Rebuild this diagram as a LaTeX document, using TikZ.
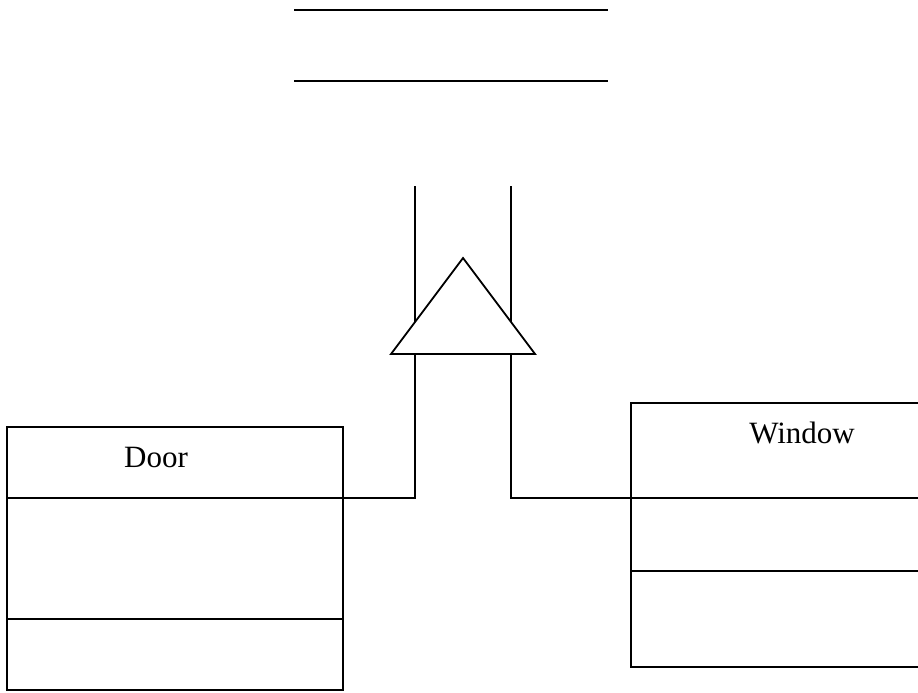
\documentclass[tikz,border=0pt]{standalone}
\usepackage{fontspec}
\setmainfont{Liberation Serif}
\begin{document}
\begin{tikzpicture}[x=1pt,y=-1pt,line width=1.8pt,
  classbox/.style={draw,rectangle,inner sep=0pt,line width=1.8pt},
  lbl/.style={font=\fontsize{31}{36}\selectfont,inner sep=0pt}]
\useasboundingbox (0,0) rectangle (918,693);
% top (empty) class lines
\coordinate (t1) at (294,10);  \coordinate (t2) at (608,10);
\coordinate (t3) at (294,81);  \coordinate (t4) at (608,81);
\draw (t1) -- (t2);
\draw (t3) -- (t4);
% boxes
\node[classbox,minimum width=336pt,minimum height=263pt] (door) at (175,558.5) {};
\node[classbox,minimum width=288pt,minimum height=264pt] (window) at (775,535) {};
\coordinate (d1) at (7,498);   \coordinate (d1e) at (343,498);
\coordinate (d2) at (7,619);   \coordinate (d2e) at (343,619);
\draw (d1) -- (d1e);
\draw (d2) -- (d2e);
\coordinate (w1) at (631,498); \coordinate (w1e) at (919,498);
\coordinate (w2) at (631,571); \coordinate (w2e) at (919,571);
\draw (w1) -- (w1e);
\draw (w2) -- (w2e);
\node[lbl] (doorlbl) at (156,457) {Door};
\node[lbl] (winlbl) at (802,433) {Window};
% generalization connectors
\coordinate (l1) at (415,186); \coordinate (l2) at (511,186);
\coordinate (jl) at (415,498); \coordinate (jr) at (511,498);
\draw (d1e) -- (jl) -- (l1);
\draw (w1) -- (jr) -- (l2);
% triangle
\coordinate (apex) at (463,258);
\coordinate (bl) at (391,354);
\coordinate (br) at (535,354);
\filldraw[fill=white,line join=miter] (apex) -- (bl) -- (br) -- cycle;
\end{tikzpicture}
\end{document}
